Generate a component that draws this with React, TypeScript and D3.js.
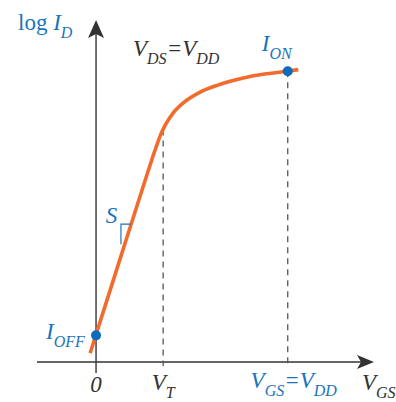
import { useEffect, useRef } from 'react';
import * as d3 from 'd3';

// transfer curve: gate voltage (V_DD = 1) vs log drain current (arbitrary units)
const vgs = [-0.031, 0.125, 0.24, 0.282, 0.31, 0.335, 0.36, 0.402, 0.454, 0.543, 0.632, 0.715, 0.804, 0.893, 0.997, 1.055];
const logId = [2.6, 30.1, 50.3, 57.6, 62.3, 66.2, 69.2, 72.8, 75.7, 78.9, 80.9, 82.3, 83.5, 84.3, 85.0, 85.5];

const xDomain = [-0.308, 1.45];
const yDomain = [-3.2, 100];
const vT = 0.35;
const vDD = 1.0;
const iOff = 7.8;
const iOn = 85.0;

const BLUE = '#1b74c0';
const DOT = '#0b6bbd';
const ORANGE = '#f26b2c';
const DARK = '#333333';
const FONT = "'Liberation Serif', 'Times New Roman', Times, serif";

export default function App() {
  const svgRef = useRef<SVGSVGElement>(null);

  useEffect(() => {
    if (!svgRef.current) return;
    const svg = d3.select(svgRef.current);
    svg.selectAll('*').remove();

    const x = d3.scaleLinear().domain(xDomain).range([37, 374]);
    const y = d3.scaleLinear().domain(yDomain).range([373, 20]);
    const x0 = x(0);
    const y0 = y(0);

    // axes
    svg.append('line')
      .attr('x1', x0).attr('x2', x0)
      .attr('y1', y(yDomain[0])).attr('y2', y(yDomain[1]) + 10)
      .attr('stroke', DARK).attr('stroke-width', 1.4);
    svg.append('path')
      .attr('d', `M${x0},${y(yDomain[1])} L${x0 + 8},${y(yDomain[1]) + 18} L${x0},${y(yDomain[1]) + 14} L${x0 - 8},${y(yDomain[1]) + 18} Z`)
      .attr('fill', DARK);

    svg.append('line')
      .attr('x1', x(xDomain[0])).attr('x2', x(xDomain[1]) - 10)
      .attr('y1', y0).attr('y2', y0)
      .attr('stroke', DARK).attr('stroke-width', 1.4);
    svg.append('path')
      .attr('d', `M${x(xDomain[1])},${y0} L${x(xDomain[1]) - 17},${y0 - 7} L${x(xDomain[1]) - 13},${y0} L${x(xDomain[1]) - 17},${y0 + 7} Z`)
      .attr('fill', DARK);

    // dashed guides
    const curveAt = (v: number) => d3.scaleLinear().domain(vgs).range(logId)(v);
    [vT, vDD].forEach(v => {
      svg.append('line')
        .attr('x1', x(v)).attr('x2', x(v))
        .attr('y1', y(curveAt(v))).attr('y2', y0 + 4)
        .attr('stroke', '#555').attr('stroke-width', 1.3)
        .attr('stroke-dasharray', '6,5');
    });

    // curve
    const pts: [number, number][] = vgs.map((v, i) => [x(v), y(logId[i])]);
    svg.append('path')
      .attr('d', d3.line().curve(d3.curveMonotoneX)(pts))
      .attr('fill', 'none')
      .attr('stroke', ORANGE)
      .attr('stroke-width', 3.6)
      .attr('stroke-linecap', 'butt');

    // slope marker
    const bx = x(0.13), by = y(40.3);
    svg.append('path')
      .attr('d', `M${bx + 10},${by} H${bx} V${by + 20}`)
      .attr('fill', 'none').attr('stroke', BLUE).attr('stroke-width', 1.2);

    // points
    [[0, iOff], [vDD, iOn]].forEach(([v, l]) => {
      svg.append('circle')
        .attr('cx', x(v)).attr('cy', y(l)).attr('r', 5)
        .attr('fill', DOT);
    });

    // labels
    const label = (px: number, py: number, parts: [string, boolean][], color: string, anchor = 'start', size = 23) => {
      const t = svg.append('text')
        .attr('x', px).attr('y', py)
        .style('font-family', FONT)
        .style('font-size', `${size}px`)
        .attr('fill', color)
        .attr('text-anchor', anchor);
      let sub = false;
      parts.forEach(([s, isSub]) => {
        const ts = t.append('tspan').text(s);
        if (s !== 'log ') ts.style('font-style', 'italic');
        if (isSub) ts.style('font-size', '16px');
        if (isSub && !sub) ts.attr('dy', 8);
        else if (!isSub && sub) ts.attr('dy', -8);
        sub = isSub;
      });
    };

    label(18, 30, [['log ', false], ['I', false], ['D', true]], BLUE);
    label(133, 56, [['V', false], ['DS', true], ['=V', false], ['DD', true]], DARK);
    label(x(vDD) - 26, y(iOn) - 20, [['I', false], ['ON', true]], BLUE);
    label(x(0.05), y(40.3) - 1, [['S', false]], BLUE);
    label(x0 - 50, y(iOff) + 4, [['I', false], ['OFF', true]], BLUE);
    label(x0, 392, [['0', false]], DARK, 'middle');
    label(x(vT), 390, [['V', false], ['T', true]], DARK, 'middle');
    label(x(vDD) + 6, 388, [['V', false], ['GS', true], ['=V', false], ['DD', true]], BLUE, 'middle');
    label(362, 390, [['V', false], ['GS', true]], DARK);
  }, []);

  return (
    <svg
      ref={svgRef}
      width={396}
      height={402}
      style={{ position: 'absolute', left: 0, top: 0, background: '#fff' }}
    />
  );
}
